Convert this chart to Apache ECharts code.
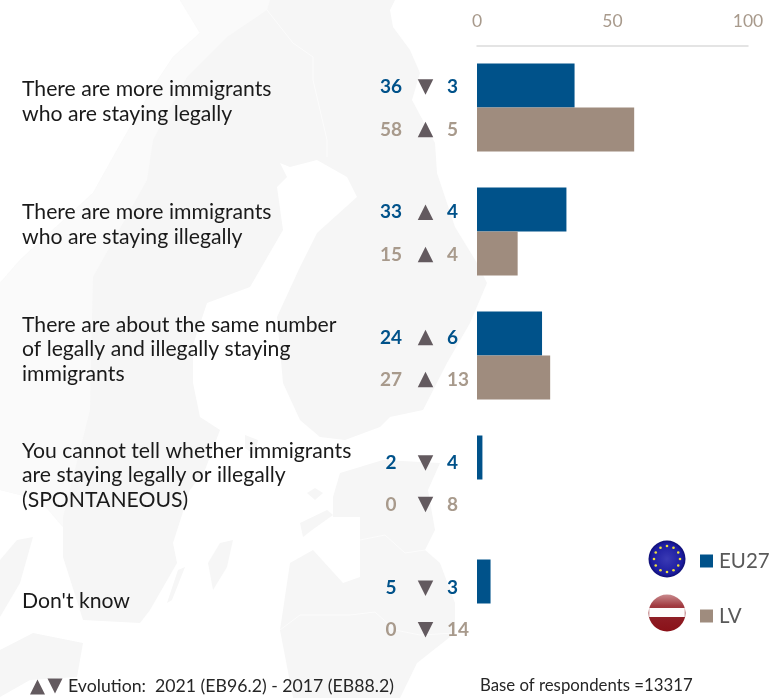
<!DOCTYPE html>
<html><head><meta charset="utf-8">
<style>html,body{margin:0;padding:0;background:#fff}#c{width:775px;height:698px}</style>
<script src="https://cdn.jsdelivr.net/npm/echarts@6/dist/echarts.min.js"></script>
</head><body><div id="c"></div>
<script>
const categories=["There are more immigrants\nwho are staying legally","There are more immigrants\nwho are staying illegally","There are about the same number\nof legally and illegally staying\nimmigrants","You cannot tell whether immigrants\nare staying legally or illegally\n(SPONTANEOUS)","Don't know"];
const eu27=[36,33,24,2,5];
const lv=[58,15,27,0,0];
const euDelta=[3,4,6,4,3];
const euDir=["down","up","up","down","down"];
const lvDelta=[5,4,13,8,14];
const lvDir=["up","up","up","down","down"];
const axisTicks=[0,50,100];
const FONT="Lato, Carlito, sans-serif";
const BLUE="#00528a",TAN="#9f8c7e",TANTXT="#a89a8c",TRI="#635a5f";
const catDy=[-6,-6.5,-6,-4,-2];
const CAT=21.2;

function tri(cx,cy,dir,s){const h=s/2,w=s/2;
  return dir==="up"?[[cx-w,cy+h],[cx+w,cy+h],[cx,cy-h]]:[[cx-w,cy-h],[cx+w,cy-h],[cx,cy+h]];}
function renderRow(params,api){
  const i=params.dataIndex;
  const p=api.coord([0,i]);const x0=p[0],yc=p[1];
  const drift=i*1.3;
  const yE=yc-21.5+drift,yL=yc+21+drift*0.8;
  const txt=(t,x,y,fill,align,extra)=>({type:'text',style:Object.assign({text:String(t),x,y,fill,align,verticalAlign:'middle',fontFamily:FONT,fontWeight:'bold',fontSize:19},extra||{})});
  const kids=[
    txt(categories[i],x0-455,yc+catDy[i],'#1a1a1a','left',{fontWeight:'normal',fontSize:CAT,lineHeight:24.8}),
    txt(eu27[i],x0-86,yE+1,BLUE,'center'),
    {type:'polygon',shape:{points:tri(x0-51.5,yE+1,euDir[i],15.5)},style:{fill:TRI}},
    txt(euDelta[i],x0-30,yE+1,BLUE,'left'),
    txt(lv[i],x0-86,yL+1,TANTXT,'center'),
    {type:'polygon',shape:{points:tri(x0-51.5,yL+1,lvDir[i],15.5)},style:{fill:TRI}},
    txt(lvDelta[i],x0-30,yL+1,TANTXT,'left')
  ];
  return {type:'group',children:kids};
}

const LAND="#f6f6f6",NOR="#fafafa",LINE="#fcfcfc";
const land=[
 [[180,0],[395,0],[390,10],[393,27],[410,50],[420,73],[412,100],[435,143],[437,173],[455,227],[477,263],[487,283],[470,323],[447,363],[423,410],[390,417],[380,427],[345,440],[320,437],[300,420],[283,383],[277,317],[300,267],[317,233],[357,197],[347,177],[317,160],[290,167],[280,163],[287,177],[277,187],[283,230],[250,287],[207,303],[193,345],[193,383],[200,417],[220,430],[205,470],[190,490],[173,543],[177,563],[150,610],[140,623],[83,620],[63,557],[63,527],[40,500],[0,490],[0,283],[20,260],[93,193],[117,150],[153,87],[173,57],[200,33]],
 [[333,497],[340,473],[383,460],[440,463],[428,490],[435,530],[425,550],[440,563],[455,603],[455,633],[417,663],[400,698],[293,698],[280,630],[290,563],[313,550],[343,583],[360,577],[360,517],[333,517]],
 [[233,540],[220,543],[208,563],[213,590],[227,567]],
 [[185,567],[178,570],[167,603],[172,600]],
 [[300,523],[327,510],[333,515],[312,530],[303,537]],
 [[307,493],[315,488],[323,493],[315,500]],
 [[17,540],[33,537],[20,583],[0,617],[0,560]],
 [[0,650],[33,633],[83,643],[77,677],[30,680],[0,697]],
 [[245,435],[258,440],[255,455],[245,448]]
];
const norway=[[180,0],[270,0],[267,10],[227,37],[187,77],[153,140],[147,180],[93,277],[92,317],[90,410],[63,517],[63,527],[40,500],[0,490],[0,283],[20,260],[93,193],[117,150],[153,87],[173,57],[200,33]];
const borders=[
 [[267,10],[293,43],[313,57],[313,80],[327,140],[327,157]],
 [[360,540],[385,535],[405,553],[425,550]],
 [[280,630],[300,615],[350,615],[375,612],[395,630],[420,635],[455,633]]
];

const g=[];
land.forEach(p=>g.push({type:'polygon',z:-10,silent:true,shape:{points:p},style:{fill:LAND}}));
g.push({type:'polygon',z:-9,silent:true,shape:{points:norway},style:{fill:NOR}});
borders.forEach(p=>g.push({type:'polyline',z:-8,silent:true,shape:{points:p},style:{stroke:LINE,lineWidth:1,fill:null}}));
// flags
const fx=667,ey=559,ly=613,fr=18.5;
g.push({type:'circle',shape:{cx:fx,cy:ey,r:fr},style:{fill:{type:'radial',x:0.5,y:0.5,r:0.55,colorStops:[{offset:0,color:'#3a3ab4'},{offset:0.75,color:'#1c1ca0'},{offset:1,color:'#07075a'}]}}});
for(let k=0;k<12;k++){const a=k*Math.PI/6;
  g.push({type:'circle',shape:{cx:fx+13*Math.cos(a),cy:ey+13*Math.sin(a),r:1.3},style:{fill:'#ecdf3c'}});}
g.push({type:'circle',shape:{cx:fx,cy:ly,r:fr},style:{fill:{type:'linear',x:0,y:0,x2:0,y2:1,colorStops:[{offset:0,color:'#c98a8d'},{offset:0.3,color:'#a23c42'},{offset:0.62,color:'#8e1c24'},{offset:1,color:'#8a1118'}]}}});
g.push({type:'rect',shape:{x:fx-17.8,y:ly-5,width:35.6,height:9},style:{fill:'#fdfbfb'}});
// footer
g.push({type:'polygon',shape:{points:tri(37.5,687,'up',15)},style:{fill:TRI}});
g.push({type:'polygon',shape:{points:tri(55,686,'down',15)},style:{fill:TRI}});
g.push({type:'text',style:{text:"Evolution:  2021 (EB96.2) - 2017 (EB88.2)",x:68,y:686,fill:'#262626',fontFamily:FONT,fontSize:17.7,verticalAlign:'middle'}});
g.push({type:'text',style:{text:"Base of respondents =13317",x:480,y:686,fill:'#262626',fontFamily:FONT,fontSize:16.8,verticalAlign:'middle'}});

const chart=echarts.init(document.getElementById('c'),null,{renderer:'canvas'});
chart.setOption({
 animation:false,backgroundColor:'#fff',
 grid:{left:477,right:27,top:45.5,height:620},
 legend:{orient:'vertical',left:695,top:543,itemWidth:13,itemHeight:13,itemGap:29,icon:'rect',selectedMode:false,
   data:['EU27','LV'],textStyle:{color:'#595959',fontFamily:FONT,fontSize:20.5,lineHeight:26,padding:[0,0,0,1]}},
 xAxis:{type:'value',position:'top',min:0,max:100,interval:50,splitLine:{show:false},axisTick:{show:false},
   axisLine:{show:true,lineStyle:{color:'#dcdcdc',width:1.5}},
   axisLabel:{color:TANTXT,fontFamily:FONT,fontSize:17.5,margin:15,customValues:axisTicks}},
 yAxis:{type:'category',inverse:true,data:categories,axisLine:{show:false},axisTick:{show:false},axisLabel:{show:false}},
 graphic:{elements:g},
 series:[
  {name:'EU27',type:'bar',data:eu27,barWidth:44,barGap:0,itemStyle:{color:BLUE},z:3},
  {name:'LV',type:'bar',data:lv,barWidth:44,barGap:0,itemStyle:{color:TAN},z:3},
  {type:'custom',silent:true,z:4,clip:false,data:categories.map((c,i)=>[0,i]),encode:{x:0,y:1},renderItem:renderRow}
 ]
});
</script></body></html>
